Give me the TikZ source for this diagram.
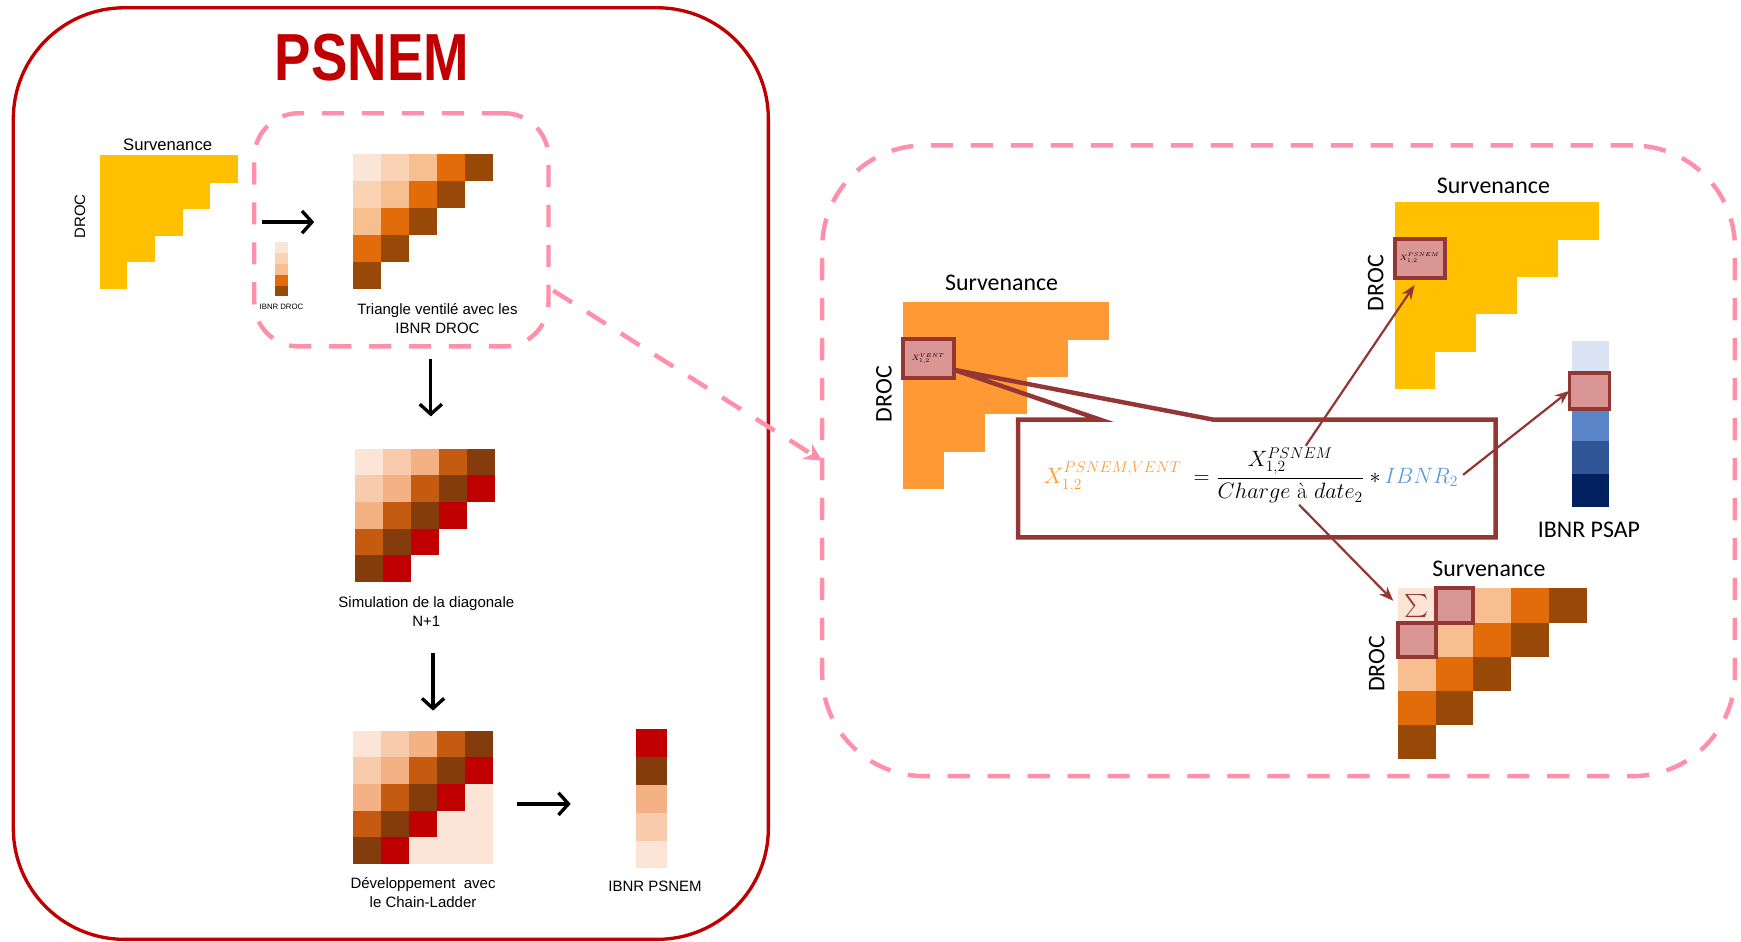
\documentclass[tikz,border=0pt]{standalone}
\usepackage{fix-cm}
\usepackage{amsmath}
\usepackage{fontspec}
\setsansfont{Liberation Sans}
\newfontfamily\calfont{Carlito}
\usetikzlibrary{arrows.meta, positioning, calc}
\definecolor{cred}{HTML}{C00000}
\definecolor{cpink}{HTML}{FF8FAB}
\definecolor{cylw}{HTML}{FFC000}
\definecolor{corg}{HTML}{FF9933}
\definecolor{chl}{HTML}{D99694}
\definecolor{cbord}{HTML}{943634}
\definecolor{cibnr}{HTML}{5B9BD5}
\definecolor{ven0}{HTML}{FBE5D6}
\definecolor{ven1}{HTML}{F9D3B4}
\definecolor{ven2}{HTML}{F7BF90}
\definecolor{ven3}{HTML}{E36C0A}
\definecolor{ven4}{HTML}{984807}
\definecolor{sim0}{HTML}{FCE4D6}
\definecolor{sim1}{HTML}{F8CBAD}
\definecolor{sim2}{HTML}{F4B183}
\definecolor{sim3}{HTML}{C55A11}
\definecolor{sim4}{HTML}{843C0C}
\definecolor{sim5}{HTML}{C00000}
\colorlet{sim6}{sim0}
\definecolor{blu0}{HTML}{DAE3F3}
\colorlet{blu1}{chl}
\definecolor{blu2}{HTML}{5A86C9}
\definecolor{blu3}{HTML}{2F5597}
\definecolor{blu4}{HTML}{002060}
\tikzset{
  every picture/.style={line width=1pt},
  tri/.style args={#1x#2}{inner sep=0pt, outer sep=0pt, minimum width=#1pt, minimum height=#2pt},
  lbl/.style={font=\sffamily\fontsize{13.5}{17}\selectfont, align=center, inner sep=0pt},
  rlbl/.style={font=\calfont\fontsize{21.5}{24}\selectfont, inner sep=0pt},
  arrow/.style={-{Straight Barb[length=9pt, width=20pt, line width=3pt]}, line width=3pt},
  zoom/.style={draw=cpink, line width=4pt, dash pattern=on 20pt off 16pt},
  hl/.style={draw=cbord, fill=chl, line width=3.5pt, inner sep=0pt, outer sep=0pt},
  ptr/.style={-{Stealth[length=13pt, width=10pt]}, draw=cbord, line width=2pt},
  fml/.style={font=\fontsize{20}{24}\selectfont, inner sep=1pt},
}
\begin{document}
\begin{tikzpicture}[x=1pt, y=-1pt]
  \useasboundingbox (0,0) rectangle (1568,848);

  % PSNEM panel
  \node[draw=cred, line width=3pt, rounded corners=100pt, tri=680x839] (frame) at (352,426.5) {};
  \node[text=cred, font=\sffamily\bfseries\fontsize{60}{60}\selectfont] (title) at (335,52) {\scalebox{0.82}[1]{PSNEM}};

  \node[tri=124x120] (yl) at (152,200) {};
  \foreach \r in {0,...,4}
    \fill[cylw] ($(yl.north west)+(0,\r*24)$) rectangle +({(5-\r)*24.8},24.4);
  \node[lbl, font=\sffamily\fontsize{15}{17}\selectfont] (ylS) at ($(yl.north)+(-1,-10)$) {Survenance};
  \node[lbl, rotate=90] (ylD) at ($(yl.west)+(-18,-5)$) {DROC};

  \node[zoom, rounded corners=40pt, tri=265x210] (zl) at (361.5,207) {};
  \node[tri=11x49] (idc) at (253.5,242.5) {};
  \foreach \r in {0,...,4}
    \fill[fill=ven\r] ($(idc.north west)+(0,\r*9.8)$) rectangle +(11,9.8);
  \node[font=\sffamily\fontsize{7}{8}\selectfont, inner sep=0pt] (idcC) at ($(idc.south)+(0,9)$) {IBNR DROC};

  \node[tri=126x121] (tv) at (381,199.5) {};
  \foreach \r in {0,...,4}
    \foreach \c in {0,...,4}{
      \pgfmathtruncatemacro\k{\r+\c}
      \ifnum\k<5 \fill[fill=ven\k] ($(tv.north west)+(\c*25.2,\r*24.2)$) rectangle +(25.2,24.2); \fi
    }
  \node[lbl] (tvC) at ($(tv.south)+(13,27)$) {Triangle ventilé avec les\\IBNR DROC};

  \node[tri=126x120] (sim) at (383,464) {};
  \foreach \r in {0,...,4}
    \foreach \c in {0,...,4}{
      \pgfmathtruncatemacro\k{\r+\c}
      \ifnum\k<6 \fill[fill=sim\k] ($(sim.north west)+(\c*25.2,\r*24)$) rectangle +(25.2,24); \fi
    }
  \node[lbl] (simC) at ($(sim.south)+(1,27)$) {Simulation de la diagonale\\N+1};

  \node[tri=126x120] (dev) at (381,718) {};
  \foreach \r in {0,...,4}
    \foreach \c in {0,...,4}{
      \pgfmathtruncatemacro\k{min(\r+\c,6)}
      \fill[fill=sim\k] ($(dev.north west)+(\c*25.2,\r*24)$) rectangle +(25.4,24.2);
    }
  \node[lbl] (devC) at ($(dev.south)+(0,26)$) {Développement~ avec\\le Chain-Ladder};

  \node[tri=28x125] (psn) at (587,719.5) {};
  \foreach \k [count=\r from 0] in {5,4,2,1,0}
    \fill[fill=sim\k] ($(psn.north west)+(0,\r*25)$) rectangle +(28,25);
  \node[lbl] (psnC) at ($(psn.south)+(3,16)$) {IBNR PSNEM};

  \draw[arrow, shorten <=22pt, shorten >=35pt] (yl.east) -- (yl.east -| tv.west);
  \draw[arrow, shorten <=63pt, shorten >=29pt] ([xshift=7pt]tv.south) -- ([xshift=7pt]tv.south |- sim.north);
  \draw[arrow, shorten <=64pt, shorten >=18pt] ([xshift=7pt]sim.south) -- ([xshift=7pt]sim.south |- dev.north);
  \draw[arrow, shorten <=22pt, shorten >=59pt] ([yshift=-6pt]dev.east) -- ([yshift=-6pt]dev.east -| psn.west);

  % zoom on the ventilation
  \node[zoom, rounded corners=92pt, tri=822x568] (zr) at (1151.5,415) {};
  \draw[zoom, -{Stealth[length=16pt, width=16pt]}, shorten <=5pt] ([yshift=-52pt]zl.east) -- (zr.west);

  \node[tri=186x168] (ot) at (906,356) {};
  \foreach \r in {0,...,4}
    \fill[corg] ($(ot.north west)+(0,\r*33.6)$) rectangle +({(5-\r)*37.2},34);
  \node[rlbl] (otS) at ($(ot.north)+(-4,-17)$) {Survenance};
  \node[rlbl, rotate=90] (otD) at ($(ot.west)+(-17,-1)$) {DROC};

  \node[tri=184x168] (yt) at (1348,266) {};
  \foreach \r in {0,...,4}
    \fill[cylw] ($(yt.north west)+(0,\r*33.6)$) rectangle +({(5-\r)*36.8},34);
  \node[rlbl] (ytS) at ($(yt.north)+(-3,-15)$) {Survenance};
  \node[rlbl, rotate=90] (ytD) at ($(yt.west)+(-17,-11)$) {DROC};
  \node[hl, minimum width=45pt, minimum height=35pt] (hlY) at ($(yt.north west)+(22.5,50.5)$) {\fontsize{7}{8}\selectfont$X^{PSNEM}_{1,2}$};

  \node[tri=33x150] (bc) at (1432.5,382) {};
  \foreach \k in {0,...,4}
    \fill[fill=blu\k] ($(bc.north west)+(0,\k*30)$) rectangle +(33,30);
  \node[hl, minimum width=36pt, minimum height=32pt] (hlB) at ($(bc.north)+(-1,45)$) {};
  \node[rlbl] (bcS) at ($(bc.south)+(-1.5,20)$) {IBNR PSAP};

  \node[tri=170x154] (bt) at (1344,607) {};
  \foreach \r in {0,...,4}
    \foreach \c in {0,...,4}{
      \pgfmathtruncatemacro\k{\r+\c}
      \ifnum\k<5 \fill[fill=ven\k] ($(bt.north west)+(\c*34,\r*30.8)$) rectangle +(34,30.8); \fi
    }
  \node[hl, minimum width=34pt, minimum height=31pt] (hlS1) at ($(bt.north west)+(51,15.4)$) {};
  \node[hl, minimum width=34pt, minimum height=31pt] (hlS2) at ($(bt.north west)+(17,46.2)$) {};
  \node[text=cbord, font=\fontsize{20}{20}\selectfont, tri=34x30.8] (sig) at ($(bt.north west)+(17,15.4)$) {$\sum$};
  \node[rlbl] (btS) at ($(bt.north)+(-3,-18)$) {Survenance};
  \node[rlbl, rotate=90] (btD) at ($(bt.west)+(-19,-9)$) {DROC};

  % formula and its callout
  \node[tri=430x106] (fbox) at (1132,431) {};
  \node[hl, minimum width=46pt, minimum height=35pt] (hlO) at ($(ot.north west)+(23,51)$) {\fontsize{7}{8}\selectfont$X^{VENT}_{1,2}$};
  \draw[draw=cbord, line width=4pt] (fbox.north west) -- ([xshift=74pt]fbox.north west) -- ([yshift=-10pt]hlO.east)
    -- ([xshift=176pt]fbox.north west) -- (fbox.north east) |- (fbox.south west) -- cycle;
  \node[fml] (frac) at (1162,428) {$\displaystyle\frac{X^{PSNEM}_{1,2}}{Charge\ \text{\rmfamily à}\ date_2}$};
  \node[fml, base left=3pt of frac] (eq) {$=$};
  \node[fml, text=corg, base left=8pt of eq] (lhs) {$X^{PSNEM,VENT}_{1,2}$};
  \node[fml, base right=2pt of frac] (ibnr) {$*\,{\color{cibnr}IBNR_2}$};

  \draw[ptr, shorten >=8pt] ([xshift=14pt]frac.north) -- (hlY.south);
  \draw[ptr, shorten <=4pt] (ibnr.east) -- (hlB.west);
  \draw[ptr, shorten >=6pt] ([xshift=8pt]frac.south) -- (sig.west);
\end{tikzpicture}
\end{document}
